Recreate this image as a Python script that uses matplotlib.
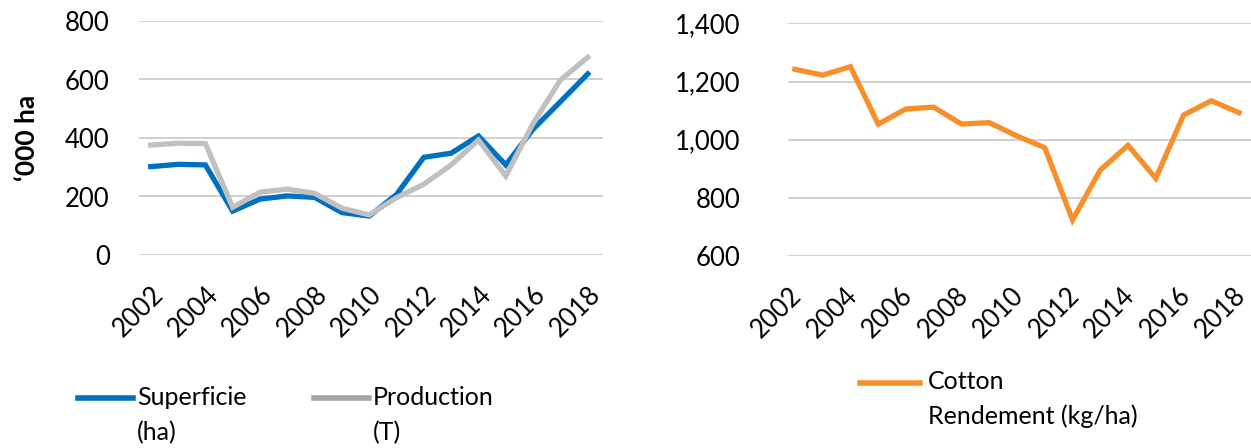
import matplotlib
matplotlib.use('Agg')
import matplotlib.pyplot as plt
from matplotlib.ticker import FuncFormatter
from matplotlib.transforms import ScaledTranslation

plt.rcParams['font.family'] = ['Lato', 'DejaVu Sans']

years = list(range(2002, 2019))
superficie = [302, 310, 308, 150, 191, 202, 197, 145, 133, 207, 334, 348, 407, 308, 430, 524, 619]
production = [376, 382, 381, 163, 215, 225, 211, 160, 137, 196, 242, 308, 393, 270, 450, 598, 676]
rendement = [1242, 1222, 1251, 1054, 1106, 1112, 1054, 1059, 1013, 973, 725, 896, 981, 868, 1085, 1134, 1093]
year_ticks = list(range(2002, 2019, 2))

blue = '#0070C0'
grey = '#C0C0C0'
orange = '#F7902B'
grid_c = '#C8C8C8'
fs = 18

fig = plt.figure(figsize=(12.51, 4.48), dpi=100)
ax1 = fig.add_axes([139/1251, 193/448, 464/1251, 234/448])
ax2 = fig.add_axes([787.7/1251, 191.7/448, 463.3/1251, 233/448])

l1, = ax1.plot(years, superficie, color=blue, lw=3.8, solid_joinstyle='miter', label='Superficie\n(ha)')
l2, = ax1.plot(years, production, color=grey, lw=3.8, solid_joinstyle='miter', label='Production\n(T)')
ax1.set_ylim(0, 800)
ax1.set_yticks([0, 200, 400, 600, 800])
ax1.set_xlim(2001.57, 2018.56)
ax1.set_ylabel('\u2018000 ha', fontsize=19, fontweight='bold')
ax1.yaxis.set_label_coords(-0.215, 0.5)

l3, = ax2.plot(years, rendement, color=orange, lw=3.8, solid_joinstyle='miter', label='Cotton\nRendement (kg/ha)')
ax2.set_ylim(600, 1400)
ax2.set_yticks([600, 800, 1000, 1200, 1400])
ax2.yaxis.set_major_formatter(FuncFormatter(lambda v, p: f'{int(v):,}'))
ax2.set_xlim(2001.74, 2018.43)

for ax, ypad, dx in ((ax1, 21, 0.0), (ax2, 34, -0.06)):
    for s in ax.spines.values():
        s.set_visible(False)
    ax.grid(axis='y', color=grid_c, lw=1.2)
    ax.set_axisbelow(True)
    ax.set_xticks(year_ticks)
    ax.set_xticklabels([str(y) for y in year_ticks], rotation=45, ha='right',
                       rotation_mode='anchor', fontsize=18.5)
    ax.tick_params(axis='x', length=0, pad=19)
    ax.tick_params(axis='y', length=0, pad=ypad, labelsize=18.5)
    for lab in ax.get_xticklabels():
        lab.set_transform(lab.get_transform() + ScaledTranslation(dx, 0, fig.dpi_scale_trans))

leg1 = fig.legend(handles=[l1, l2], loc='upper left', bbox_to_anchor=(78/1251, 1 - 386/448),
                  ncol=2, frameon=False, fontsize=fs, handlelength=2.2, handletextpad=0.15,
                  columnspacing=2.7, borderpad=0, borderaxespad=0)
leg2 = fig.legend(handles=[l3], loc='upper left', bbox_to_anchor=(860/1251, 1 - 370/448),
                  frameon=False, fontsize=fs, handlelength=2.4, handletextpad=0.3,
                  borderpad=0, borderaxespad=0)
for leg in (leg1, leg2):
    for t in leg.get_texts():
        t.set_linespacing(1.6)
    for h in leg.legend_handles:
        h.set_linewidth(4)
        h.set_ydata(h.get_ydata() + 12.5)
leg1.legend_handles[1].set_color('#A6A6A6')

fig.savefig('out.png', dpi=100)
